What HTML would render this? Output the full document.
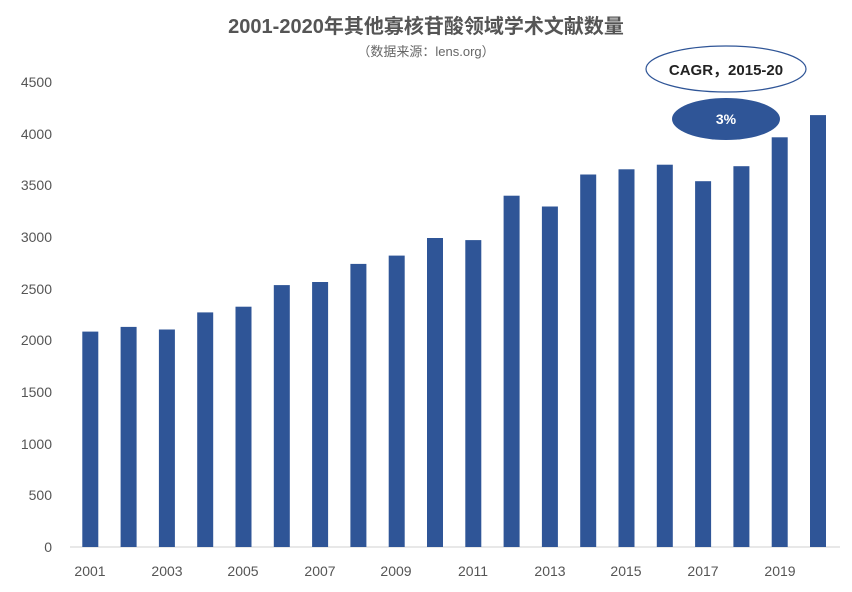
<!DOCTYPE html>
<html><head><meta charset="utf-8"><style>body{margin:0;background:#fff}svg{display:block}</style></head><body>
<svg width="852" height="592" xmlns="http://www.w3.org/2000/svg" font-family="Liberation Sans, Noto Sans CJK SC, sans-serif">
<text x="426" y="33" text-anchor="middle" font-size="20" font-weight="bold" fill="#555">2001-2020年其他寡核苷酸领域学术文献数量</text>
<text x="426" y="56" text-anchor="middle" font-size="13" fill="#666">（数据来源：lens.org）</text>
<line x1="70" y1="547" x2="840" y2="547" stroke="#d0d0d0" stroke-width="1"/>
<g font-size="14" fill="#555" text-anchor="end">
<text x="52" y="552">0</text><text x="52" y="500">500</text><text x="52" y="449">1000</text><text x="52" y="397">1500</text><text x="52" y="345">2000</text><text x="52" y="294">2500</text><text x="52" y="242">3000</text><text x="52" y="190">3500</text><text x="52" y="139">4000</text><text x="52" y="87">4500</text>
</g>
<g font-size="14" fill="#555" text-anchor="middle">
<text x="90" y="576">2001</text><text x="167" y="576">2003</text><text x="243" y="576">2005</text><text x="320" y="576">2007</text><text x="396" y="576">2009</text><text x="473" y="576">2011</text><text x="550" y="576">2013</text><text x="626" y="576">2015</text><text x="703" y="576">2017</text><text x="780" y="576">2019</text>
</g>
<g fill="#2f5597">
<rect x="82.3" y="331.6" width="16" height="215.4"/>
<rect x="120.6" y="326.9" width="16" height="220.1"/>
<rect x="158.9" y="329.5" width="16" height="217.5"/>
<rect x="197.2" y="312.4" width="16" height="234.6"/>
<rect x="235.5" y="306.7" width="16" height="240.3"/>
<rect x="273.8" y="285.1" width="16" height="261.9"/>
<rect x="312.1" y="282.0" width="16" height="265.0"/>
<rect x="350.4" y="263.9" width="16" height="283.1"/>
<rect x="388.7" y="255.6" width="16" height="291.4"/>
<rect x="427.0" y="238.0" width="16" height="309.0"/>
<rect x="465.3" y="240.1" width="16" height="306.9"/>
<rect x="503.6" y="195.7" width="16" height="351.3"/>
<rect x="541.9" y="206.5" width="16" height="340.5"/>
<rect x="580.2" y="174.5" width="16" height="372.5"/>
<rect x="618.5" y="169.3" width="16" height="377.7"/>
<rect x="656.8" y="164.7" width="16" height="382.3"/>
<rect x="695.1" y="181.2" width="16" height="365.8"/>
<rect x="733.4" y="166.2" width="16" height="380.8"/>
<rect x="771.7" y="137.3" width="16" height="409.7"/>
<rect x="810.0" y="115.1" width="16" height="431.9"/>
</g>
<ellipse cx="726" cy="69" rx="80" ry="23" fill="#fff" stroke="#2f5597" stroke-width="1.2"/>
<text x="726" y="75" text-anchor="middle" font-size="15" font-weight="bold" fill="#222">CAGR，2015-20</text>
<ellipse cx="726" cy="119" rx="54" ry="21" fill="#2f5597"/>
<text x="726" y="124" text-anchor="middle" font-size="14" font-weight="bold" fill="#fff">3%</text>
</svg>
</body></html>
